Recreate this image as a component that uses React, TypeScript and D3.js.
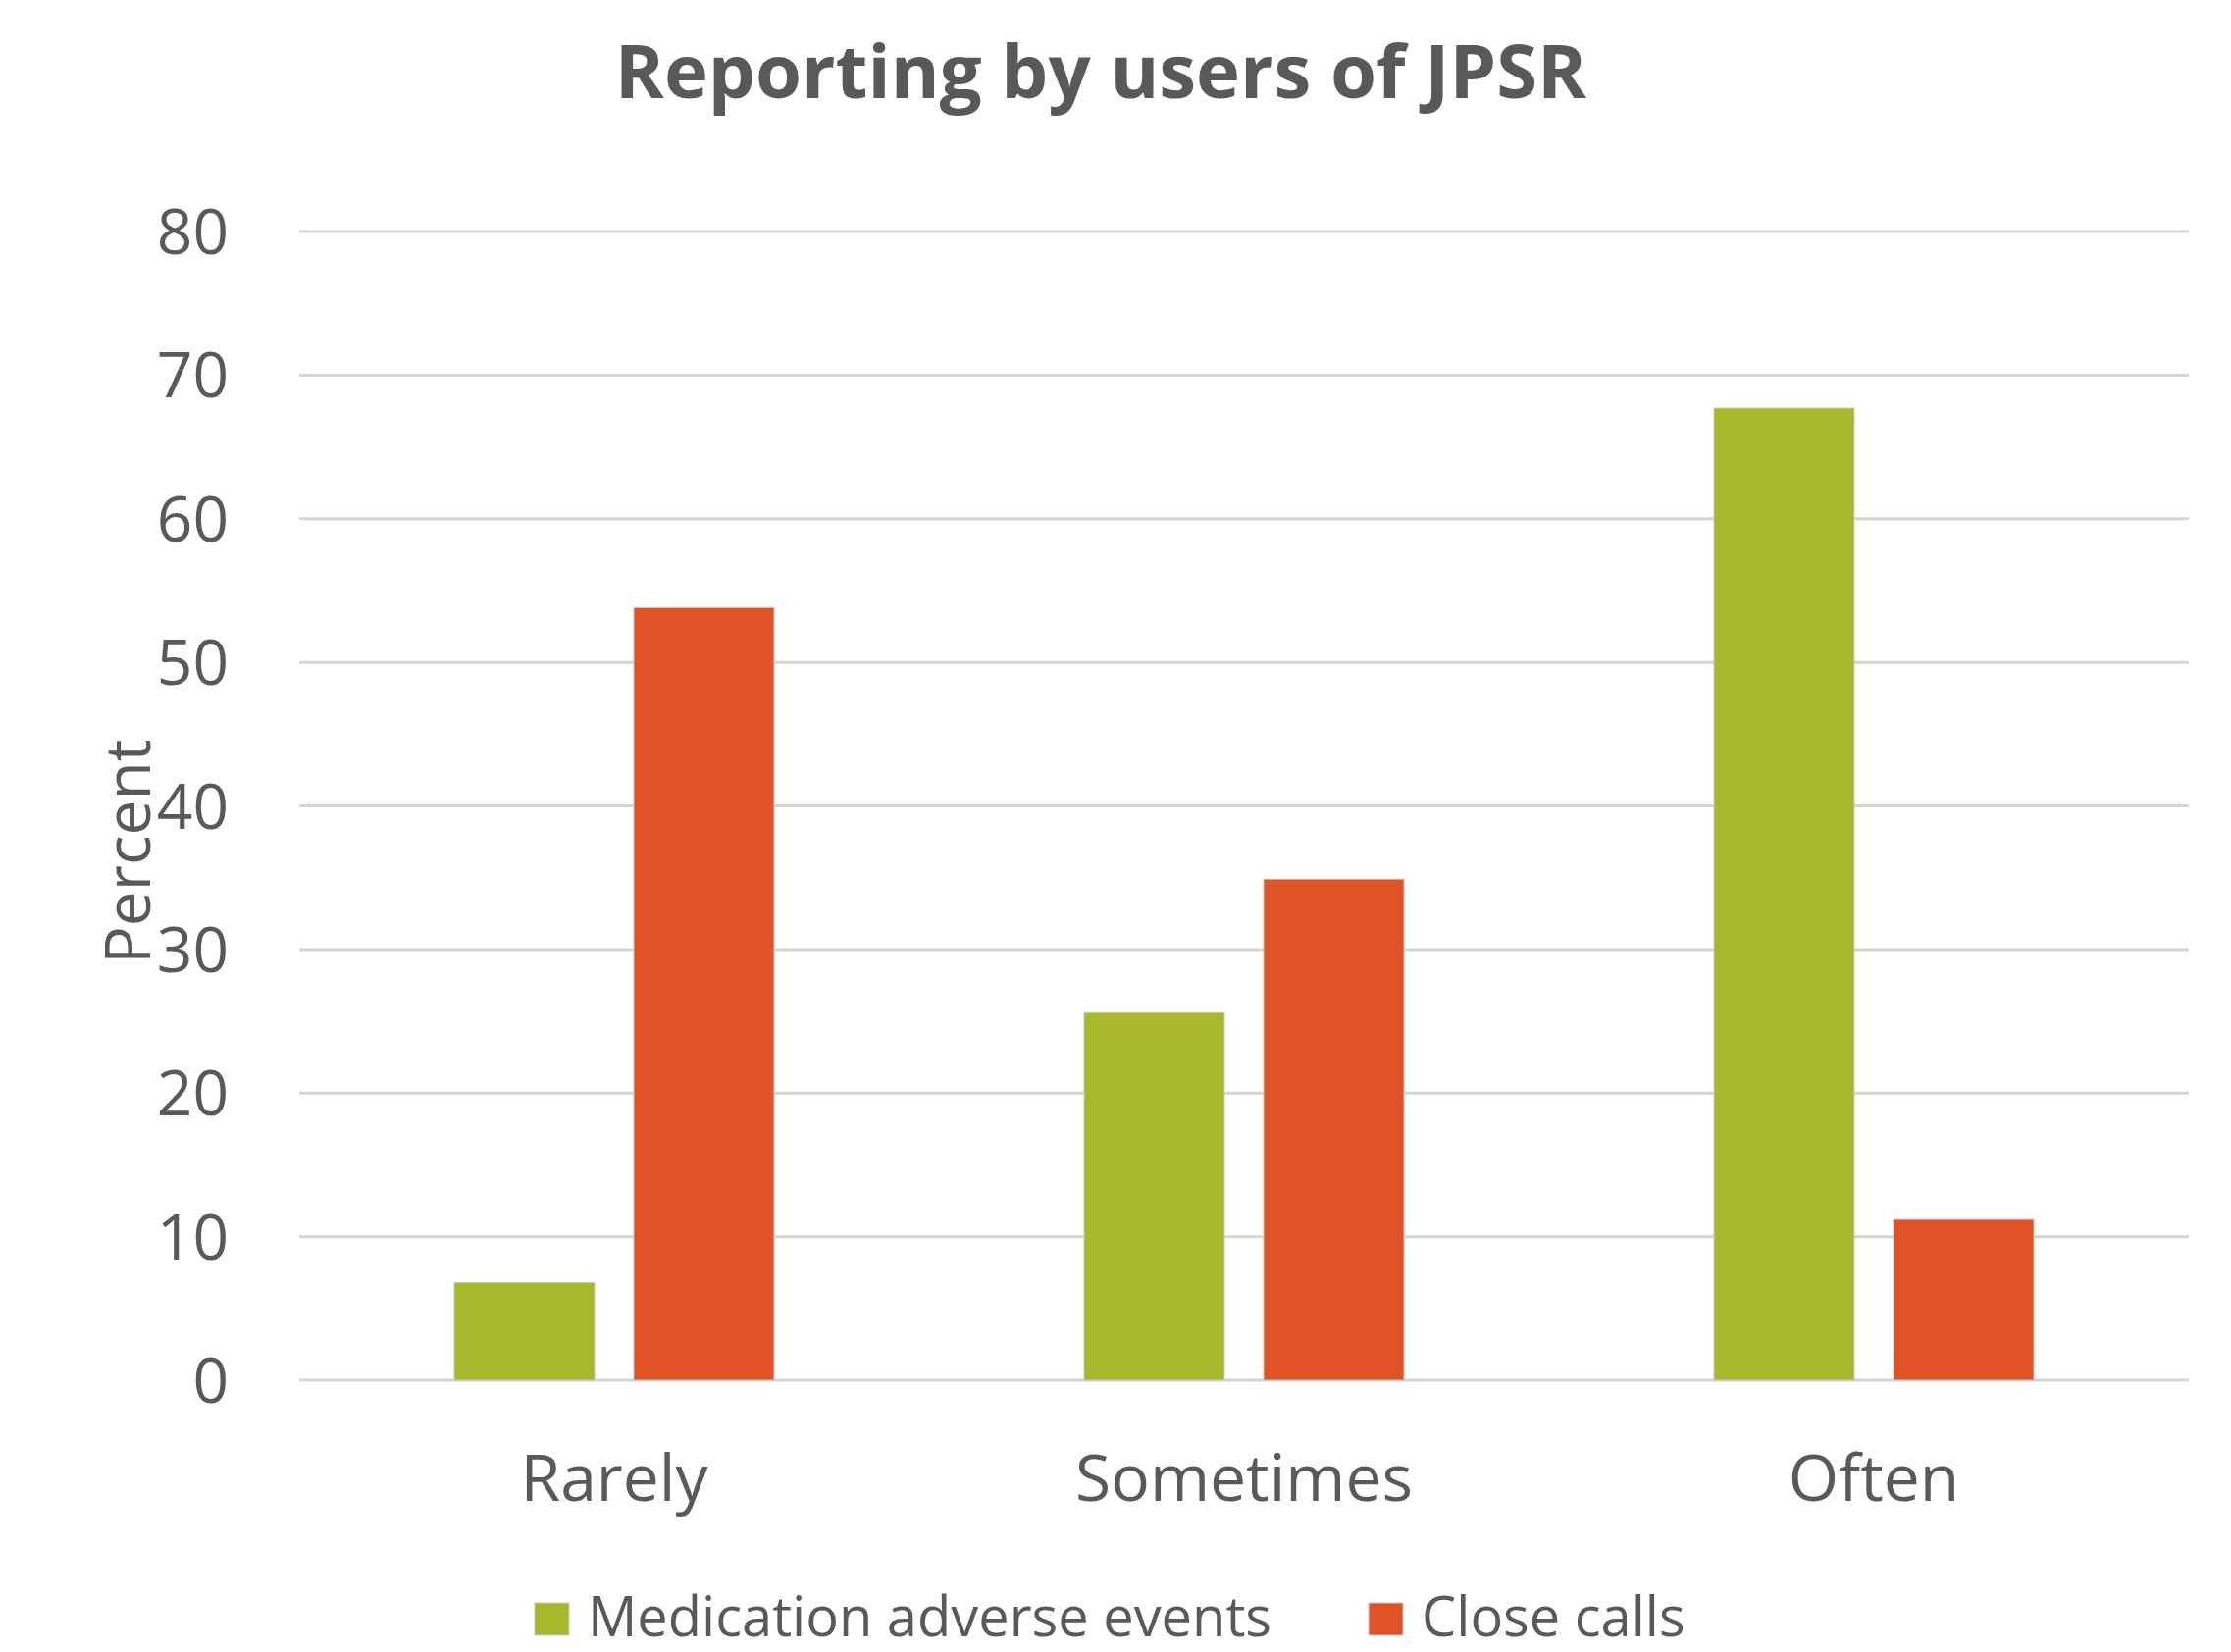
import React, { useEffect, useRef } from "react";
import * as d3 from "d3";

// chart data
const categories = ["Rarely", "Sometimes", "Often"];
const seriesNames = ["Medication adverse events", "Close calls"];
const medicationAdverse = [6.8, 25.6, 67.7];
const closeCalls = [53.8, 34.9, 11.2];
const yTicks = [0, 10, 20, 30, 40, 50, 60, 70, 80];
const colors = ["#A7B82A", "#E05327"];

const W = 2274;
const H = 1684;
const margin = { top: 236, right: 43, bottom: 277, left: 305 };
const textColor = "#595959";
const font = "'Open Sans', sans-serif";

const App: React.FC = () => {
  const svgRef = useRef<SVGSVGElement | null>(null);

  useEffect(() => {
    document.body.style.margin = "0";
    const svg = d3.select(svgRef.current);
    svg.selectAll("*").remove();

    const x0 = d3
      .scaleBand<string>()
      .domain(categories)
      .range([margin.left, W - margin.right])
      .paddingInner(0)
      .paddingOuter(0);

    const groupPad = 158;
    const x1 = d3
      .scaleBand<string>()
      .domain(seriesNames)
      .range([groupPad, x0.bandwidth() - groupPad])
      .paddingInner(0.2186)
      .paddingOuter(0);

    const y = d3
      .scaleLinear()
      .domain([0, 80])
      .range([H - margin.bottom, margin.top]);

    // gridlines
    svg
      .append("g")
      .selectAll("line")
      .data(yTicks)
      .join("line")
      .attr("x1", margin.left)
      .attr("x2", W - margin.right)
      .attr("y1", (d) => y(d))
      .attr("y2", (d) => y(d))
      .attr("stroke", "#D4D4D4")
      .attr("stroke-width", 3);

    // y tick labels
    svg
      .append("g")
      .selectAll("text")
      .data(yTicks)
      .join("text")
      .attr("x", 233)
      .attr("y", (d) => y(d) + 23)
      .attr("text-anchor", "end")
      .attr("font-family", font)
      .attr("font-size", 64)
      .attr("fill", textColor)
      .text((d) => String(d));

    // bars
    const rows = categories.map((c, i) => ({
      cat: c,
      vals: [medicationAdverse[i], closeCalls[i]],
    }));

    const groups = svg
      .append("g")
      .selectAll("g")
      .data(rows)
      .join("g")
      .attr("transform", (d) => `translate(${x0(d.cat)},0)`);

    groups
      .selectAll("rect")
      .data((d) => d.vals.map((v, j) => ({ name: seriesNames[j], v, j })))
      .join("rect")
      .attr("x", (d) => x1(d.name) ?? 0)
      .attr("width", x1.bandwidth())
      .attr("y", (d) => y(d.v))
      .attr("height", (d) => y(0) - y(d.v))
      .attr("fill", (d) => colors[d.j])
      .attr("stroke", "#C8C8C8")
      .attr("stroke-width", 1);

    // category labels
    svg
      .append("g")
      .selectAll("text")
      .data(categories)
      .join("text")
      .attr("x", (d) => (x0(d) ?? 0) + x0.bandwidth() / 2)
      .attr("y", 1530)
      .attr("text-anchor", "middle")
      .attr("font-family", font)
      .attr("font-size", 66)
      .attr("fill", textColor)
      .text((d) => d);

    // y title
    svg
      .append("text")
      .attr("transform", "translate(153,868) rotate(-90)")
      .attr("text-anchor", "middle")
      .attr("font-family", font)
      .attr("font-size", 64)
      .attr("fill", textColor)
      .text("Percent");

    // title
    svg
      .append("text")
      .attr("x", 1122)
      .attr("y", 100)
      .attr("text-anchor", "middle")
      .attr("font-family", font)
      .attr("font-weight", "bold")
      .attr("font-size", 76)
      .attr("fill", textColor)
      .text("Reporting by users of JPSR");

    // legend
    const legendX = [545, 1395];
    const legend = svg
      .append("g")
      .selectAll("g")
      .data(seriesNames)
      .join("g")
      .attr("transform", (_d, i) => `translate(${legendX[i]},1634)`);
    legend
      .append("rect")
      .attr("width", 35)
      .attr("height", 33)
      .attr("fill", (_d, i) => colors[i])
      .attr("stroke", "#C8C8C8")
      .attr("stroke-width", 1);
    legend
      .append("text")
      .attr("x", 54)
      .attr("y", 34)
      .attr("font-family", font)
      .attr("font-size", 56)
      .attr("fill", textColor)
      .text((d) => d);
  }, []);

  return <svg ref={svgRef} width={W} height={H} style={{ display: "block", background: "#fff" }} />;
};

export default App;
